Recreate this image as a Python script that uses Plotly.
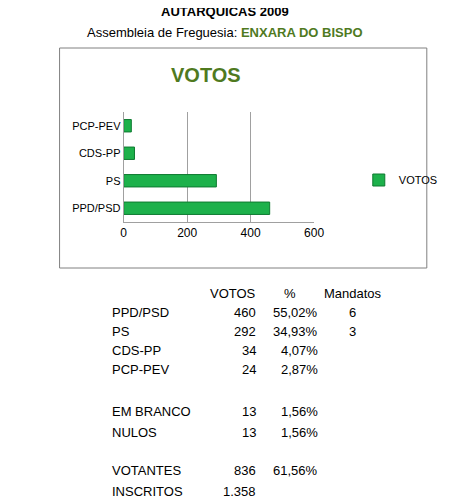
import plotly.graph_objects as go

parties = ["PPD/PSD", "PS", "CDS-PP", "PCP-PEV"]
votos = [460, 292, 34, 24]
pct = ["55,02%", "34,93%", "4,07%", "2,87%"]
mandatos = ["6", "3", "", ""]
other_labels = ["EM BRANCO", "NULOS"]
other_votos = [13, 13]
other_pct = ["1,56%", "1,56%"]
tot_labels = ["VOTANTES", "INSCRITOS"]
tot_votos = ["836", "1.358"]
tot_pct = ["61,56%", ""]
x_ticks = [0, 200, 400, 600]

W, H = 456, 501
OFF = 8
def px(x): return (x - OFF) / W
def py(y): return 1 - (y - OFF) / H

fig = go.Figure(go.Bar(
    y=parties, x=votos, orientation="h", name="VOTOS",
    marker=dict(color="#1DB14B", line=dict(color="#0E7A30", width=1)),
    width=0.45, showlegend=True))

font = dict(family="Liberation Sans, Arial", size=12, color="black")
fig.update_layout(
    width=W, height=H, margin=dict(l=0, r=0, t=0, b=0),
    paper_bgcolor="white", plot_bgcolor="white", font=font,
    xaxis=dict(domain=[px(124), px(320)], range=[0, 600], tickvals=x_ticks,
               showgrid=True, gridcolor="#A0A0A0", zeroline=False,
               showline=True, linecolor="#A0A0A0", ticks="", tickfont=dict(size=12)),
    yaxis=dict(domain=[py(222), py(112)], showgrid=False, showline=True,
               linecolor="#A0A0A0", ticks="", tickfont=dict(size=11)),
    legend=dict(x=px(366), y=py(180), xanchor="left", yanchor="middle",
                font=dict(size=11), bgcolor="rgba(0,0,0,0)"),
    shapes=[dict(type="rect", xref="paper", yref="paper", x0=px(58), x1=px(436),
                 y0=py(268), y1=py(48), line=dict(color="#808080", width=1))],
)

anns = []
def add(x, y, text, anchor="left", **kw):
    anns.append(dict(x=px(x), y=py(y), xref="paper", yref="paper", text=text,
                     showarrow=False, xanchor=anchor, yanchor="middle", **kw))

add(228, 12, "<b>AUTARQUICAS 2009</b>", "center", font=dict(size=13))
add(228, 32, "Assembleia de Freguesia: <b><span style='color:#4F7A1F'>ENXARA DO BISPO</span></b>", "center", font=dict(size=13))
add(209, 75, "<b>VOTOS</b>", "center", font=dict(size=20, color="#4F7A1F"))

add(237, 293, "VOTOS", "center", font=dict(size=13))
add(295, 293, "%", "center", font=dict(size=13))
add(360, 293, "Mandatos", "center", font=dict(size=13))

rows = []
ys = [312, 331, 350, 369]
for i, p in enumerate(parties):
    rows.append((ys[i], p, str(votos[i]), pct[i], mandatos[i]))
for i, p in enumerate(other_labels):
    rows.append(([411, 432][i], p, str(other_votos[i]), other_pct[i], ""))
for i, p in enumerate(tot_labels):
    rows.append(([470, 491][i], p, tot_votos[i], tot_pct[i], ""))
for y, lab, v, pc, m in rows:
    add(110, y, lab, "left", font=dict(size=13))
    add(262, y, v, "right", font=dict(size=13))
    add(326, y, pc, "right", font=dict(size=13))
    if m:
        add(360, y, m, "center", font=dict(size=13))

fig.update_layout(annotations=anns)
fig.write_html("out.html")
